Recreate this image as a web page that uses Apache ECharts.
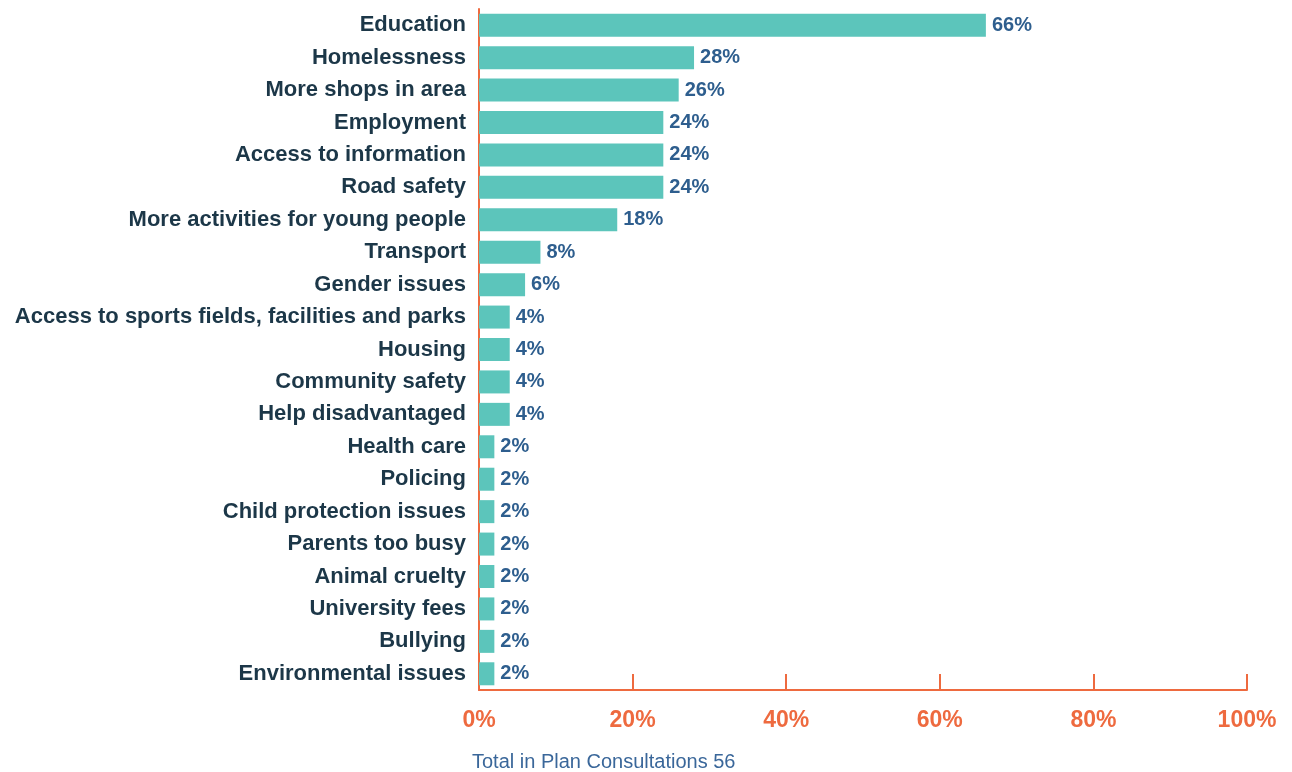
<!DOCTYPE html>
<html>
<head>
<meta charset="utf-8">
<script src="https://cdn.jsdelivr.net/npm/echarts@6/dist/echarts.min.js"></script>
<style>html,body{margin:0;padding:0;background:#fff}#c{width:1292px;height:772px}</style>
</head>
<body>
<div id="c"></div>
<script>
const categories = ["Education","Homelessness","More shops in area","Employment","Access to information","Road safety","More activities for young people","Transport","Gender issues","Access to sports fields, facilities and parks","Housing","Community safety","Help disadvantaged","Health care","Policing","Child protection issues","Parents too busy","Animal cruelty","University fees","Bullying","Environmental issues"];
const values = [66,28,26,24,24,24,18,8,6,4,4,4,4,2,2,2,2,2,2,2,2];
const xTicks = [0,20,40,60,80,100];
const caption = "Total in Plan Consultations 56";

const orange = "#EE6A3F";
const chart = echarts.init(document.getElementById('c'));
chart.setOption({
  animation: false,
  grid: {left: 479, right: 45, top: 9, bottom: 82, containLabel: false},
  xAxis: {
    type: 'value', min: xTicks[0], max: xTicks[xTicks.length-1], interval: 20,
    axisLine: {show: true, lineStyle: {color: orange, width: 2}},
    axisTick: {show: true, inside: true, length: 16, lineStyle: {color: orange, width: 2}},
    splitLine: {show: false},
    axisLabel: {formatter: '{value}%', color: orange, fontWeight: 'bold', fontSize: 23, fontFamily: '"Liberation Sans", Arial', margin: 19}
  },
  yAxis: {
    type: 'category', data: categories, inverse: true,
    axisLine: {show: true, lineStyle: {color: orange, width: 2}},
    axisTick: {show: false},
    axisLabel: {color: '#1C3748', fontWeight: 'bold', fontSize: 22, fontFamily: '"Liberation Sans", Arial', margin: 13, padding: [3, 0, 0, 0]}
  },
  series: [{
    type: 'bar', data: values, barWidth: 23,
    itemStyle: {color: '#5CC5BB'},
    label: {show: true, position: 'right', distance: 6, formatter: '{c}%', color: '#2E5E8E', fontWeight: 'bold', fontSize: 20, fontFamily: '"Liberation Sans", Arial', padding: [2, 0, 0, 0]}
  }],
  graphic: [{
    type: 'text', left: 472, top: 752,
    style: {text: caption, fill: '#3A679A', fontSize: 20, fontFamily: '"Liberation Sans", Arial'}
  }]
});
</script>
</body>
</html>
